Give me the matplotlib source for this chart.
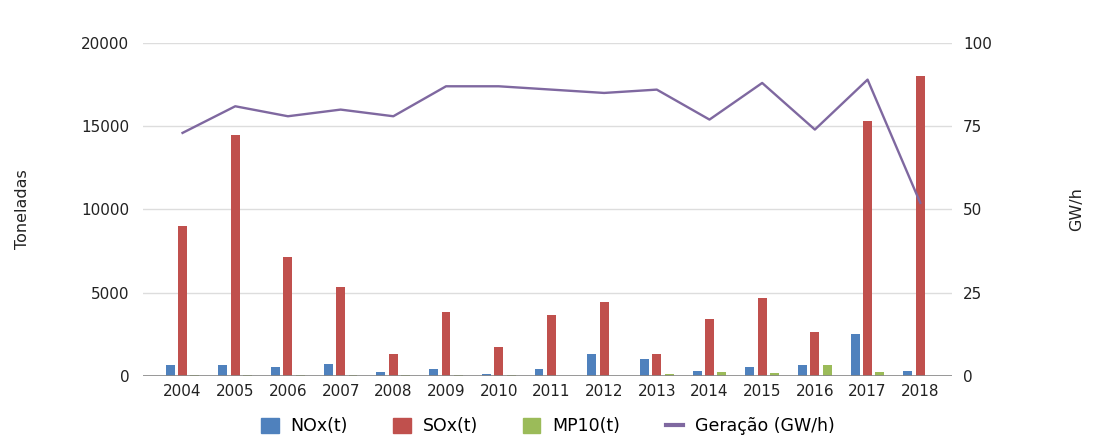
import numpy as np
import matplotlib
matplotlib.use("Agg")
import matplotlib.pyplot as plt
from matplotlib.patches import Patch
from matplotlib.lines import Line2D

# Dados
anos = ["2004", "2005", "2006", "2007", "2008", "2009", "2010", "2011",
        "2012", "2013", "2014", "2015", "2016", "2017", "2018"]
nox = [650, 650, 550, 750, 250, 400, 100, 400, 1350, 1000, 300, 550, 650, 2500, 300]
sox = [9000, 14500, 7150, 5350, 1350, 3850, 1750, 3650, 4450, 1350, 3400, 4700, 2650, 15300, 18000]
mp10 = [60, 60, 60, 50, 60, 60, 60, 30, 0, 100, 250, 200, 650, 250, 0]
geracao = [73, 81, 78, 80, 78, 87, 87, 86, 85, 86, 77, 88, 74, 89, 52]

cor_nox = "#4F81BD"
cor_sox = "#C0504D"
cor_mp10 = "#9BBB59"
cor_ger = "#7F68A0"

plt.rcParams["font.family"] = "DejaVu Sans"

fig = plt.figure(figsize=(10.96, 4.36), dpi=100)
ax1 = fig.add_axes([0.1305, 0.1376, 0.738, 0.7638])

x = np.arange(len(anos))
w = 0.17
passo = 0.235
ax1.bar(x - passo, nox, width=w, color=cor_nox, zorder=3)
ax1.bar(x, sox, width=w, color=cor_sox, zorder=3)
ax1.bar(x + passo, mp10, width=w, color=cor_mp10, zorder=3)

ax1.set_ylim(0, 20000)
ax1.set_yticks([0, 5000, 10000, 15000, 20000])
ax1.set_xlim(-0.75, 14.6)
ax1.set_xticks(x)
ax1.set_xticklabels(anos)
ax1.grid(True, axis="y", color="#dddddd", linewidth=1, zorder=0)
ax1.axhline(0, color="#888888", linewidth=1.2, zorder=4)
for s in ax1.spines.values():
    s.set_visible(False)
ax1.tick_params(axis="both", length=0, labelsize=11, colors="#222222")
ax1.tick_params(axis="y", pad=10)
ax1.tick_params(axis="x", pad=6)
ax1.set_ylabel("Toneladas", fontsize=11.5, color="#222222")
ax1.yaxis.set_label_coords(-0.14, 0.5)

# Eixo secundário para a geração
ax2 = ax1.twinx()
ax2.plot(x, geracao, color=cor_ger, linewidth=1.7, zorder=5)
ax2.set_ylim(0, 100)
ax2.set_yticks([0, 25, 50, 75, 100])
for s in ax2.spines.values():
    s.set_visible(False)
ax2.tick_params(axis="y", length=0, labelsize=11, colors="#222222", pad=8)
ax2.set_ylabel("GW/h", fontsize=11.5, color="#222222", rotation=90)
ax2.yaxis.set_label_coords(1.145, 0.5)

handles = [
    Patch(color=cor_nox, label="NOx(t)"),
    Patch(color=cor_sox, label="SOx(t)"),
    Patch(color=cor_mp10, label="MP10(t)"),
    Line2D([0], [0], color=cor_ger, linewidth=3, label="Geração (GW/h)"),
]
fig.legend(handles=handles, loc="center", bbox_to_anchor=(0.5, 0.022),
           ncol=4, frameon=False, fontsize=12.5, handlelength=1.0,
           handleheight=1.0, columnspacing=2.6, handletextpad=0.7)

fig.savefig("out.png", dpi=100, facecolor="white")
